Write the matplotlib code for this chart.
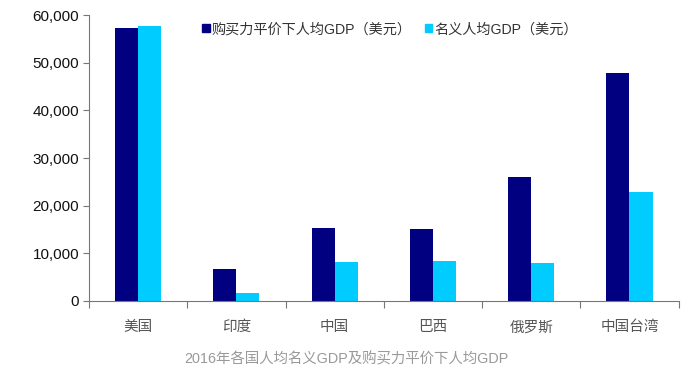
import numpy as np
import matplotlib.pyplot as plt
from matplotlib.patches import Patch

plt.rcParams['font.family'] = ['Liberation Sans', 'Noto Sans CJK SC', 'DejaVu Sans']

regions = ['美国', '印度', '中国', '巴西', '俄罗斯', '中国台湾']
ppp_gdp = [57300, 6600, 15300, 15100, 26000, 47800]
nominal_gdp = [57800, 1700, 8100, 8400, 8000, 22800]
series_names = ['购买力平价下人均GDP（美元）', '名义人均GDP（美元）']
yticks = [0, 10000, 20000, 30000, 40000, 50000, 60000]

fig = plt.figure(figsize=(6.92, 3.79), dpi=100)
ax = fig.add_axes([0.1286, 0.206, 0.852, 0.754])

x = np.arange(len(regions))
w = 0.235
ax.bar(x - w / 2, ppp_gdp, w, color='#000080')
ax.bar(x + w / 2, nominal_gdp, w, color='#00CCFF')

ax.set_xlim(-0.5, len(regions) - 0.5)
ax.set_ylim(0, 60000)
ax.set_yticks(yticks)
ax.set_yticklabels([f'{v:,}' for v in yticks], fontsize=11, color='#111111')

ax.set_xticks(np.arange(len(regions) + 1) - 0.5)
ax.set_xticklabels([])
ax.set_xticks(x, minor=True)
ax.set_xticklabels(regions, minor=True, fontsize=10.5, color='#555555')
ax.tick_params(axis='x', which='minor', length=0, pad=14)
ax.tick_params(axis='x', which='major', length=5, color='#777777')
ax.tick_params(axis='y', length=4, color='#777777', pad=3)

for s in ['top', 'right']:
    ax.spines[s].set_visible(False)
for s in ['left', 'bottom']:
    ax.spines[s].set_color('#777777')

handles = [Patch(color='#000080'), Patch(color='#00CCFF')]
ax.legend(handles, series_names, ncol=2, loc='upper left', bbox_to_anchor=(0.17, 1.02),
          frameon=False, fontsize=10.2, handlelength=0.55, handleheight=0.55,
          handletextpad=0.15, columnspacing=0.9, labelcolor='#333333')

fig.text(0.5, 0.042, '2016年各国人均名义GDP及购买力平价下人均GDP',
         ha='center', fontsize=10.4, color='#999999')

fig.savefig('out.png', dpi=100)
